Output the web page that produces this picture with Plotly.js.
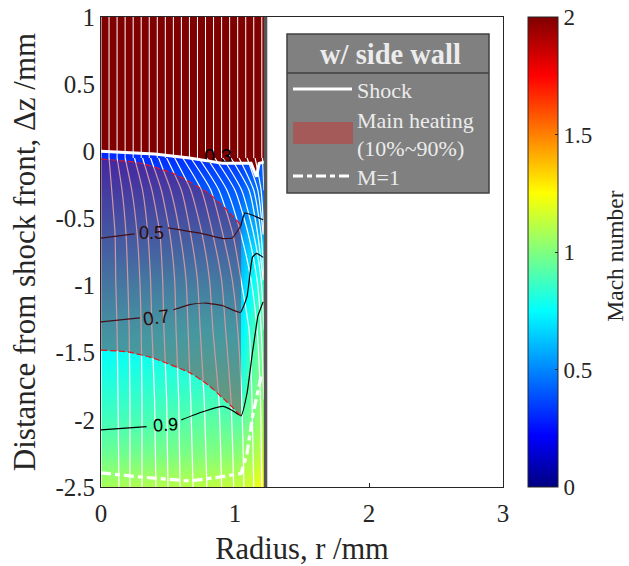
<!DOCTYPE html>
<html><head><meta charset="utf-8">
<script src="https://cdn.plot.ly/plotly-3.0.1.min.js"></script>
<style>html,body{margin:0;padding:0;background:#fff}</style></head>
<body><div id="chart" style="width:629px;height:566px"></div>
<script>
const radiusGrid=[0,0.4,0.8,1.04,1.06,1.13,1.215,1.22];
const zGrid=[-2.5,-2.25,-2,-1.75,-1.5,-1.25,-1,-0.75,-0.5,-0.15,0.03];
const machRows=[
[1.08,1.10,1.12,1.14,1.15,1.18,1.25,1.25],
[0.96,0.98,1.00,1.02,1.05,1.07,1.15,1.15],
[0.88,0.90,0.93,0.92,0.94,0.99,1.08,1.08],
[0.82,0.84,0.85,0.84,0.84,0.95,1.02,1.02],
[0.76,0.78,0.79,0.78,0.78,0.90,0.97,0.97],
[0.70,0.72,0.73,0.72,0.72,0.84,0.93,0.93],
[0.62,0.64,0.65,0.63,0.66,0.76,0.87,0.87],
[0.54,0.55,0.56,0.56,0.60,0.68,0.72,0.72],
[0.46,0.47,0.47,0.47,0.52,0.56,0.50,0.50],
[0.35,0.35,0.36,0.37,0.38,0.40,0.42,0.42],
[0.29,0.29,0.29,0.30,0.32,0.32,0.34,0.34]];
const jet=[[0,'rgb(0,0,128)'],[0.11,'rgb(0,0,255)'],[0.375,'rgb(0,255,255)'],[0.625,'rgb(255,255,0)'],[0.875,'rgb(255,0,0)'],[1,'rgb(128,0,0)']];

const shockR=[0,0.4,0.66,0.91,1.12,1.16,1.18,1.22];
const shockZ=[0,-0.02,-0.05,-0.09,-0.09,-0.19,-0.09,-0.08];

const streamLevels=[-0.05,-0.29,-0.62,-0.96,-1.33,-1.85,-2.5];
const freeStreamZ=[1,-0.05];
const streamStart=[0,.06,.12,.18,.24,.30,.36,.42,.48,.54,.60,.66,.72,.78,.84,.90,.96,1.02,1.08,1.14,1.20];
const streamlines=[
[0,0,0,0,0,0,0],
[.06,.08,.105,.11,.12,.127,.134],
[.12,.157,.187,.20,.21,.216,.216],
[.18,.23,.27,.29,.30,.306,.306],
[.25,.31,.35,.37,.38,.40,.41],
[.31,.38,.44,.46,.47,.49,.50],
[.37,.45,.515,.55,.56,.58,.59],
[.43,.52,.59,.635,.65,.67,.687],
[.49,.60,.67,.72,.74,.77,.79],
[.55,.67,.755,.81,.835,.88,.90],
[.61,.75,.835,.90,.93,.97,.99],
[.67,.82,.91,.98,1.02,1.05,1.067],
[.73,.88,.985,1.045,1.105,1.127,1.14],
[.79,.94,1.045,1.12,1.165,1.19,1.20],
[.85,1.0,1.10,1.165,1.195,1.216],
[.91,1.05,1.14,1.195,1.216],
[.97,1.105,1.17,1.21],
[1.03,1.14,1.195,1.216],
[1.09,1.17,1.21],
[1.15,1.195,1.216],
[1.205,1.216]];

const heatTopR=[0,0.29,0.55,0.80,0.94,1.045];
const heatTopZ=[-0.057,-0.087,-0.169,-0.31,-0.437,-0.549];
const heatBottomR=[0,0.20,0.388,0.664,0.80,0.94,1.045];
const heatBottomZ=[-1.48,-1.494,-1.54,-1.65,-1.74,-1.867,-1.97];

const c05R=[0,0.25,null,0.5,0.74,0.91,0.98,1.04,1.075,1.21];
const c05Z=[-0.646,-0.615,null,-0.57,-0.61,-0.65,-0.645,-0.56,-0.46,-0.51];
const c07R=[0,0.29,null,0.54,0.67,0.78,0.91,1.04,1.09,1.13,1.16,1.21];
const c07Z=[-1.27,-1.24,null,-1.18,-1.14,-1.13,-1.15,-1.20,-1.08,-0.79,-0.76,-0.79];
const c09R=[0,0.34,null,0.6,0.76,0.91,0.98,1.045,1.09,1.13,1.155,1.17,1.21];
const c09Z=[-2.075,-2.05,null,-2.0,-1.94,-1.90,-1.93,-1.97,-1.80,-1.50,-1.33,-1.23,-1.12];
const sonicR=[0,0.29,0.66,0.86,1.045,1.09,1.13,1.2];
const sonicZ=[-2.395,-2.425,-2.455,-2.43,-2.40,-2.25,-1.98,-1.65];

const xTicks=[0,1,2,3];
const yTicks=[1,0.5,0,-0.5,-1,-1.5,-2,-2.5];
const yTickText=['1','0.5','0','-0.5','-1','-1.5','-2','-2.5'];
const cbTicks=[0,0.5,1,1.5,2];
const cbTickText=['0','0.5','1','1.5','2'];

const serif='"Liberation Serif","Times New Roman",serif';
const sans='"Liberation Sans",Arial,sans-serif';
const ink='#262626';
const white='rgb(236,236,236)';
const X=p=>(p-101)/134, Y=p=>1-(p-17)/134.286;

const traces=[];
traces.push({type:'heatmap',x:radiusGrid,y:zGrid,z:machRows,zmin:0,zmax:2,zsmooth:'best',colorscale:jet,hoverinfo:'skip',
 colorbar:{x:(528-101)/402,xanchor:'left',xpad:0,ypad:0,y:0.5,len:1,thickness:30,thicknessmode:'pixels',outlinewidth:1,outlinecolor:ink,
  tickmode:'array',tickvals:cbTicks,ticktext:cbTickText,ticks:'inside',ticklen:3,tickcolor:ink,tickfont:{family:serif,size:23,color:ink}}});
traces.push({x:[0,...shockR,1.22,0],y:[1,...shockZ,1,1],mode:'lines',line:{width:0},fill:'toself',fillcolor:'rgb(128,0,0)',hoverinfo:'skip'});
streamStart.forEach(r=>traces.push({x:[r,r],y:freeStreamZ,mode:'lines',line:{color:'#fff',width:1},hoverinfo:'skip'}));
streamlines.forEach(r=>traces.push({x:r,y:streamLevels.slice(0,r.length),mode:'lines',line:{color:'#fff',width:1.2,shape:'spline',smoothing:0.6},hoverinfo:'skip'}));
[[c05R,c05Z],[c07R,c07Z],[c09R,c09Z]].forEach(c=>traces.push({x:c[0],y:c[1],mode:'lines',line:{color:'#000',width:1.2,shape:'spline',smoothing:0.4},hoverinfo:'skip'}));
traces.push({x:[X(218)],y:[Y(158)],mode:'text',text:['0.3'],textfont:{family:sans,size:20,color:'#000'},textposition:'middle center',hoverinfo:'skip'});
traces.push({x:[...heatTopR,...heatBottomR.slice().reverse()],y:[...heatTopZ,...heatBottomZ.slice().reverse()],mode:'lines',line:{width:0},fill:'toself',fillcolor:'rgba(150,30,50,0.46)',hoverinfo:'skip'});
[[heatTopR,heatTopZ],[heatBottomR,heatBottomZ]].forEach(c=>traces.push({x:c[0],y:c[1],mode:'lines',line:{color:'rgb(235,20,30)',width:1.2,dash:'6px,3px',shape:'spline',smoothing:0.5},hoverinfo:'skip'}));
traces.push({x:shockR,y:shockZ,mode:'lines',line:{color:'#fff',width:3},hoverinfo:'skip'});
traces.push({x:sonicR,y:sonicZ,mode:'lines',line:{color:'#fff',width:3.2,dash:'10px,4px,5px,4px'},hoverinfo:'skip'});
traces.push({x:[1.228,1.228],y:[-2.5,1],mode:'lines',line:{color:'#555',width:3.5},hoverinfo:'skip'});

const ann=(p,q,text,size,color,extra)=>Object.assign({xref:'x',yref:'y',x:X(p),y:Y(q),text,showarrow:false,font:{family:serif,size,color}},extra||{});
const layout={
 width:629,height:566,showlegend:false,paper_bgcolor:'#fff',plot_bgcolor:'#fff',
 margin:{l:101,r:126,t:17,b:79,pad:0,autoexpand:false},
 xaxis:{range:[0,3],tickmode:'array',tickvals:xTicks,ticks:'inside',ticklen:4,tickcolor:ink,ticklabelstandoff:4,showgrid:false,zeroline:false,showline:true,mirror:true,linecolor:ink,linewidth:1,layer:'below traces',
  tickfont:{family:serif,size:25,color:ink},title:{text:'Radius, r /mm',font:{family:serif,size:30.5,color:ink},standoff:13}},
 yaxis:{range:[-2.5,1],tickmode:'array',tickvals:yTicks,ticktext:yTickText,ticks:'inside',ticklen:4,tickcolor:ink,showgrid:false,zeroline:false,showline:true,mirror:true,linecolor:ink,linewidth:1,layer:'below traces',
  tickfont:{family:serif,size:25,color:ink},title:{text:'Distance from shock front, Δz /mm',font:{family:serif,size:31,color:ink},standoff:10}},
 shapes:[
  {type:'rect',xref:'x',yref:'y',x0:X(287),x1:X(489),y0:Y(34),y1:Y(193),fillcolor:'rgb(128,128,128)',line:{color:'#404040',width:1.5}},
  {type:'line',xref:'x',yref:'y',x0:X(287),x1:X(489),y0:Y(73),y1:Y(73),line:{color:'#404040',width:1.5}},
  {type:'line',xref:'x',yref:'y',x0:X(293),x1:X(352),y0:Y(89),y1:Y(89),line:{color:'#fff',width:3}},
  {type:'rect',xref:'x',yref:'y',x0:X(293),x1:X(353),y0:Y(122),y1:Y(144),fillcolor:'rgb(165,90,90)',line:{width:0}},
  {type:'line',xref:'x',yref:'y',x0:X(293),x1:X(352),y0:Y(176),y1:Y(176),line:{color:'#fff',width:3,dash:'10px,4px,5px,4px'}}
 ],
 annotations:[
  ann(390,54,'<b>w/ side wall</b>',28.5,white),
  ann(357,90,'Shock',22,white,{xanchor:'left',xshift:-2}),
  ann(357,120,'Main heating',22,white,{xanchor:'left',xshift:-2}),
  ann(357,148,'(10%~90%)',22,white,{xanchor:'left',xshift:-2}),
  ann(357,177,'M=1',22,white,{xanchor:'left',xshift:-2}),
  {xref:'x',yref:'y',x:X(151),y:Y(233),text:'0.5',showarrow:false,font:{family:sans,size:18,color:'#300a0a'}},
  {xref:'x',yref:'y',x:X(156),y:Y(317),text:'0.7',showarrow:false,textangle:-8,font:{family:sans,size:19,color:'#300a0a'}},
  {xref:'x',yref:'y',x:X(165),y:Y(425),text:'0.9',showarrow:false,textangle:-4,font:{family:sans,size:18,color:'#000'}},
  {xref:'paper',yref:'paper',x:(615-101)/402,y:0.49,xanchor:'center',yanchor:'middle',text:'Mach number',textangle:-90,showarrow:false,borderpad:0,font:{family:serif,size:23.5,color:ink}}
 ]
};
Plotly.newPlot('chart',traces,layout,{staticPlot:true,displayModeBar:false});
</script></body></html>
